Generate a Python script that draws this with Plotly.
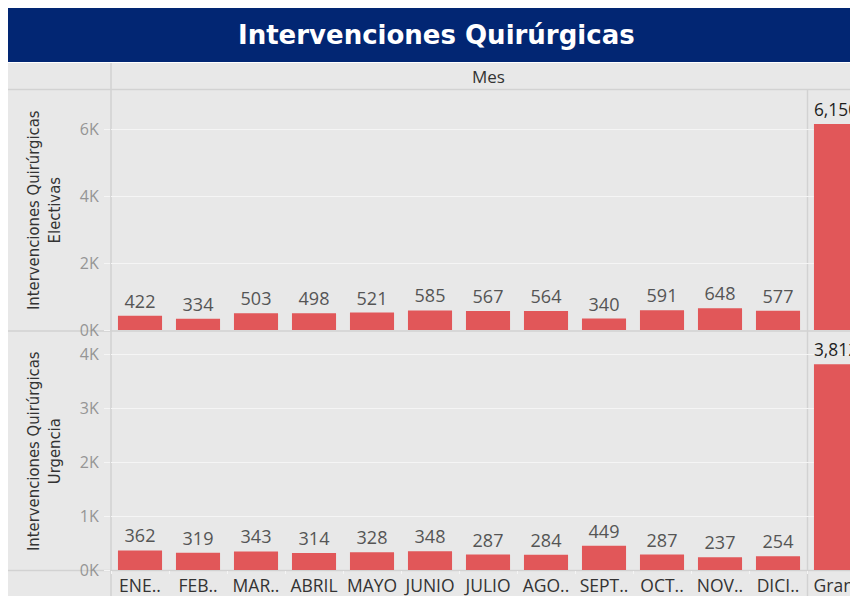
import plotly.graph_objects as go

# figure sits at (8, 8) inside the page (body margin)
W, H = 850, 588
OFF = 8

months = ["ENE..", "FEB..", "MAR..", "ABRIL", "MAYO", "JUNIO", "JULIO",
          "AGO..", "SEPT..", "OCT..", "NOV..", "DICI..", "Gran."]
electivas = [422, 334, 503, 498, 521, 585, 567, 564, 340, 591, 648, 577, 6150]
urgencia = [362, 319, 343, 314, 328, 348, 287, 284, 449, 287, 237, 254, 3812]

top_tickvals = [0, 2000, 4000, 6000]
top_ticktext = ["0K", "2K", "4K", "6K"]
bot_tickvals = [0, 1000, 2000, 3000, 4000]
bot_ticktext = ["0K", "1K", "2K", "3K", "4K"]

title = "Intervenciones Quirúrgicas"
header = "Mes"
ytitle_top = "Intervenciones Quirúrgicas<br>Electivas"
ytitle_bot = "Intervenciones Quirúrgicas<br>Urgencia"

BAR = "#e15759"
BG = "#e8e8e8"
SEP = "#d2d2d2"
GRID = "#f5f5f5"
FONT = "Open Sans"
NARROW = "Liberation Sans Narrow, DejaVu Sans Condensed, Roboto Condensed, Open Sans"


def px(x):  # window pixel -> paper
    return (x - OFF) / W


def py(y):
    return 1 - (y - OFF) / H


def labels(vals):
    return [f"{v:,}" for v in vals]


def lab_colors(vals):
    return ["#555555"] * (len(vals) - 1) + ["#1e1e1e"]


fig = go.Figure()
fig.add_trace(go.Bar(x=months, y=electivas, xaxis="x2", yaxis="y2",
                     marker_color=BAR, marker_line_width=0, width=0.76,
                     text=labels(electivas), textposition="outside",
                     textfont=dict(size=18, color=lab_colors(electivas), family=FONT),
                     cliponaxis=True, hoverinfo="skip"))
fig.add_trace(go.Bar(x=months, y=urgencia, xaxis="x", yaxis="y",
                     marker_color=BAR, marker_line_width=0, width=0.76,
                     text=labels(urgencia), textposition="outside",
                     textfont=dict(size=18, color=lab_colors(urgencia), family=FONT),
                     cliponaxis=True, hoverinfo="skip"))

xr = [-0.5, (858 - 111) / 58 - 0.5]
common_x = dict(type="category", range=xr, domain=[px(111), 1], showgrid=False,
                zeroline=False, showline=False, fixedrange=True, automargin=False)
common_y = dict(showgrid=True, gridcolor=GRID, gridwidth=1, zeroline=False,
                ticks="outside", ticklen=6, tickcolor=GRID, tickwidth=1,
                tickfont=dict(size=16, color="#959595", family=FONT),
                ticklabelstandoff=2, fixedrange=True, automargin=False)
fig.update_layout(
    width=W, height=H, margin=dict(l=0, r=0, t=0, b=0),
    paper_bgcolor="white", plot_bgcolor="rgba(0,0,0,0)",
    showlegend=False, bargap=0.24,
    font=dict(family=FONT),
    xaxis=dict(**common_x, anchor="y", ticks="outside", tickson="boundaries",
               ticklen=3, tickcolor=GRID, tickangle=0, ticklabelstandoff=3,
               tickfont=dict(size=17.5, color="#333333", family=FONT)),
    xaxis2=dict(**common_x, anchor="y2", matches="x", showticklabels=False),
    yaxis=dict(**common_y, domain=[py(570), py(332)],
               range=[0, (570 - 332) / 54 * 1000],
               tickvals=bot_tickvals, ticktext=bot_ticktext, anchor="x"),
    yaxis2=dict(**common_y, domain=[py(330), py(90)],
                range=[0, (330 - 90) / 67 * 2000],
                tickvals=top_tickvals, ticktext=top_ticktext, anchor="x2"),
)

shapes = [
    dict(type="rect", xref="paper", yref="paper", x0=0, x1=1, y0=py(62), y1=1,
         fillcolor="#022673", line_width=0, layer="below"),
    dict(type="rect", xref="paper", yref="paper", x0=0, x1=1, y0=0, y1=py(63),
         fillcolor=BG, line_width=0, layer="below"),
    dict(type="line", xref="paper", yref="paper", x0=px(111), x1=px(111), y0=0, y1=py(63),
         line=dict(color=SEP, width=1.5), layer="below"),
    dict(type="line", xref="paper", yref="paper", x0=px(807.5), x1=px(807.5), y0=0, y1=py(90),
         line=dict(color=SEP, width=1.5), layer="below"),
]
for yy in (89.5, 331, 570.5):
    shapes.append(dict(type="line", xref="paper", yref="paper", x0=0, x1=1,
                       y0=py(yy), y1=py(yy), line=dict(color=SEP, width=1.5), layer="below"))
fig.update_layout(shapes=shapes)

A = dict(xref="paper", yref="paper", showarrow=False, xanchor="center", yanchor="middle")
ann = [
    dict(**A, text=f"<b>{title}</b>", x=px(436), y=py(35),
         font=dict(size=26, color="white", family="DejaVu Sans")),
    dict(**A, text=header, x=px(488), y=py(77),
         font=dict(size=17, color="#333333", family=FONT)),
    dict(**A, text=ytitle_top, x=px(44), y=py(210), textangle=-90,
         font=dict(size=16.5, color="#333333", family=NARROW)),
    dict(**A, text=ytitle_bot, x=px(44), y=py(451), textangle=-90,
         font=dict(size=16.5, color="#333333", family=NARROW)),
]
fig.update_layout(annotations=ann)

fig.write_html("out.html")
